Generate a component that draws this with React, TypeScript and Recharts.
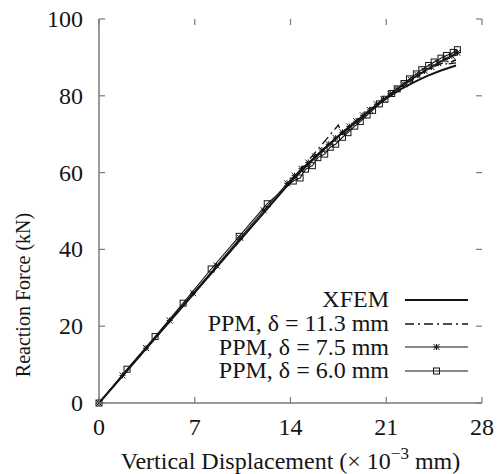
import React from "react";
import { LineChart, Line, XAxis, YAxis } from "recharts";

// tick values
const xTicks = [0, 7, 14, 21, 28];
const yTicks = [0, 20, 40, 60, 80, 100];

// [displacement (x10^-3 mm), reaction force (kN)]
const xfem = [
	[0, 0], [14, 57.6], [15, 61.2], [16, 64.6], [17, 67.9], [18, 71.0], [19, 73.9],
	[20, 76.7], [21, 79.3], [22, 81.6], [23, 83.5], [24, 85.2], [25, 86.6], [26.1, 87.9],
];

const ppm113 = [
	[0, 0], [7, 28.8], [14, 57.6], [17.5, 72.4], [17.8, 69.6], [18.5, 71.9], [19.5, 75.0],
	[20.5, 78.1], [21.5, 80.9], [22.5, 83.5], [23.5, 85.7], [24.5, 87.6], [25.4, 88.9],
	[26.1, 89.3], [25.3, 88.2], [26.1, 88.6],
];

const ppm75 = [
	[0, 0], [1.72, 7.2], [3.44, 14.3], [5.16, 21.5], [6.88, 28.6], [8.6, 35.8], [10.32, 43.0],
	[12.04, 50.2], [13.76, 57.2], [14.3, 59.2], [14.8, 61.0], [15.3, 62.6], [15.8, 64.2],
	[16.3, 65.9], [16.8, 67.4], [17.3, 69.0], [17.8, 70.5], [18.3, 72.0], [18.8, 73.4],
	[19.3, 74.9], [19.8, 76.3], [20.3, 77.8], [20.8, 79.1], [21.3, 80.5], [21.8, 81.8],
	[22.3, 83.0], [22.8, 84.2], [23.3, 85.4], [23.8, 86.5], [24.3, 87.5], [24.8, 88.5],
	[25.3, 89.5], [25.8, 90.4], [26.2, 91.2],
];

const ppm60 = [
	[0, 0], [2.05, 8.8], [4.1, 17.3], [6.15, 26.0], [8.2, 34.9], [10.25, 43.4], [12.3, 51.9],
	[14.2, 57.8], [14.7, 58.6], [15.1, 60.9], [15.6, 61.8], [16.0, 63.9], [16.5, 64.8],
	[16.9, 66.6], [17.3, 67.4], [17.8, 69.2], [18.2, 70.4], [18.7, 72.1], [19.1, 73.3],
	[19.6, 75.0], [20.0, 76.2], [20.5, 77.9], [20.9, 79.1], [21.4, 80.6], [21.8, 81.8],
	[22.3, 83.2], [22.7, 84.4], [23.2, 85.7], [23.6, 86.8], [24.1, 87.9], [24.5, 88.8],
	[25.0, 89.8], [25.4, 90.5], [25.9, 91.3], [26.2, 92.0],
];

const legendLabels = ["XFEM", "PPM, δ = 11.3 mm", "PPM, δ = 7.5 mm", "PPM, δ = 6.0 mm"];

const toRows = (pts: number[][]) => pts.map(([x, y]) => ({ x, y }));

const FONT = "'Liberation Serif', 'Times New Roman', serif";
const GRAY = "#7a7a7a";
const INK = "#151515";

// plot frame (from chart margins + axis sizes)
const PLOT_LEFT = 99;
const PLOT_RIGHT = 482;
const PLOT_TOP = 19;
const PLOT_BOTTOM = 403;

const BottomTick = (props: any) => {
	const { x, payload } = props;
	return (
		<g>
			<line x1={x} y1={PLOT_BOTTOM} x2={x} y2={PLOT_BOTTOM - 6} stroke={GRAY} strokeWidth={1.2} />
			<line x1={x} y1={PLOT_TOP} x2={x} y2={PLOT_TOP + 6} stroke={GRAY} strokeWidth={1.2} />
			<text x={x} y={PLOT_BOTTOM + 32} textAnchor="middle" fontSize={24} fill={INK} fontFamily={FONT}>
				{payload.value}
			</text>
		</g>
	);
};

const LeftTick = (props: any) => {
	const { y, payload } = props;
	return (
		<g>
			<line x1={PLOT_LEFT} y1={y} x2={PLOT_LEFT + 6} y2={y} stroke={GRAY} strokeWidth={1.2} />
			<line x1={PLOT_RIGHT} y1={y} x2={PLOT_RIGHT - 6} y2={y} stroke={GRAY} strokeWidth={1.2} />
			<text x={PLOT_LEFT - 16} y={y + 8} textAnchor="end" fontSize={24} fill={INK} fontFamily={FONT}>
				{payload.value}
			</text>
		</g>
	);
};

const XLabel = () => (
	<text
		x={(PLOT_LEFT + PLOT_RIGHT) / 2}
		y={PLOT_BOTTOM + 66}
		textAnchor="middle"
		fontSize={24}
		fill={INK}
		fontFamily={FONT}
	>
		Vertical Displacement (× 10
		<tspan dy={-10} fontSize={17}>−3</tspan>
		<tspan dy={10}> mm)</tspan>
	</text>
);

const YLabel = () => (
	<text
		x={30}
		y={295}
		transform="rotate(-90, 30, 295)"
		textAnchor="middle"
		fontSize={20}
		fill={INK}
		fontFamily={FONT}
	>
		Reaction Force (kN)
	</text>
);

const Square = (props: any) => {
	const { cx, cy, index } = props;
	if (cx == null || cy == null) return <g key={index} />;
	return (
		<rect key={index} x={cx - 3} y={cy - 3} width={6} height={6} fill="none" stroke={INK} strokeWidth={1} />
	);
};

const Star = (props: any) => {
	const { cx, cy, index } = props;
	if (cx == null || cy == null) return <g key={index} />;
	const r = 3;
	return (
		<g key={index} stroke={INK} strokeWidth={1}>
			<line x1={cx - r} y1={cy} x2={cx + r} y2={cy} />
			<line x1={cx} y1={cy - r} x2={cx} y2={cy + r} />
			<line x1={cx - r} y1={cy - r} x2={cx + r} y2={cy + r} />
			<line x1={cx - r} y1={cy + r} x2={cx + r} y2={cy - r} />
		</g>
	);
};

const LegendBox = () => {
	const samples = [
		{ dash: undefined, w: 2, marker: null },
		{ dash: "9 4 2 4", w: 1.3, marker: null },
		{ dash: undefined, w: 1.1, marker: "star" },
		{ dash: undefined, w: 1.1, marker: "square" },
	];
	return (
		<div style={{ position: "absolute", left: 160, top: 288, width: 320 }}>
			{legendLabels.map((label, i) => (
				<div key={label} style={{ display: "flex", alignItems: "center", height: 23.7 }}>
					<div
						style={{
							width: 229,
							textAlign: "right",
							fontFamily: FONT,
							fontSize: 24,
							color: INK,
							lineHeight: "23px",
							whiteSpace: "nowrap",
						}}
					>
						{label}
					</div>
					<svg width={90} height={20} style={{ display: "block" }}>
						<line
							x1={16}
							x2={79}
							y1={10}
							y2={10}
							stroke={INK}
							strokeWidth={samples[i].w}
							strokeDasharray={samples[i].dash}
						/>
						{samples[i].marker === "star" && <Star cx={47.5} cy={10} index={0} />}
						{samples[i].marker === "square" && <Square cx={47.5} cy={10} index={0} />}
					</svg>
				</div>
			))}
		</div>
	);
};

export default function App() {
	return (
		<div style={{ position: "absolute", left: 0, top: 0, width: 497, height: 474, background: "#fff" }}>
			<LineChart width={497} height={474} margin={{ top: 19, right: 15, bottom: 0, left: 0 }}>
				<XAxis
					xAxisId="b"
					type="number"
					dataKey="x"
					domain={[0, 28]}
					ticks={xTicks}
					height={71}
					tickSize={0}
					tickMargin={0}
					tickLine={false}
					axisLine={{ stroke: GRAY, strokeWidth: 1.5 }}
					tick={(p: any) => <BottomTick {...p} />}
					label={<XLabel />}
				/>
				<XAxis
					xAxisId="t"
					orientation="top"
					type="number"
					domain={[0, 28]}
					height={0}
					tick={false}
					tickLine={false}
					axisLine={{ stroke: GRAY, strokeWidth: 1.5 }}
				/>
				<YAxis
					yAxisId="l"
					type="number"
					domain={[0, 100]}
					ticks={yTicks}
					width={99}
					tickSize={0}
					tickMargin={0}
					tickLine={false}
					axisLine={{ stroke: GRAY, strokeWidth: 1.5 }}
					tick={(p: any) => <LeftTick {...p} />}
					label={<YLabel />}
				/>
				<YAxis
					yAxisId="r"
					orientation="right"
					type="number"
					domain={[0, 100]}
					width={0}
					tick={false}
					tickLine={false}
					axisLine={{ stroke: GRAY, strokeWidth: 1.5 }}
				/>
				<Line
					xAxisId="b"
					yAxisId="l"
					data={toRows(ppm60)}
					dataKey="y"
					type="linear"
					stroke={INK}
					strokeWidth={1.1}
					dot={Square}
					isAnimationActive={false}
				/>
				<Line
					xAxisId="b"
					yAxisId="l"
					data={toRows(ppm75)}
					dataKey="y"
					type="linear"
					stroke={INK}
					strokeWidth={1.1}
					dot={Star}
					isAnimationActive={false}
				/>
				<Line
					xAxisId="b"
					yAxisId="l"
					data={toRows(ppm113)}
					dataKey="y"
					type="linear"
					stroke={INK}
					strokeWidth={1.3}
					strokeDasharray="9 4 2 4"
					dot={false}
					isAnimationActive={false}
				/>
				<Line
					xAxisId="b"
					yAxisId="l"
					data={toRows(xfem)}
					dataKey="y"
					type="linear"
					stroke={INK}
					strokeWidth={2}
					dot={false}
					isAnimationActive={false}
				/>
			</LineChart>
			<LegendBox />
		</div>
	);
}
